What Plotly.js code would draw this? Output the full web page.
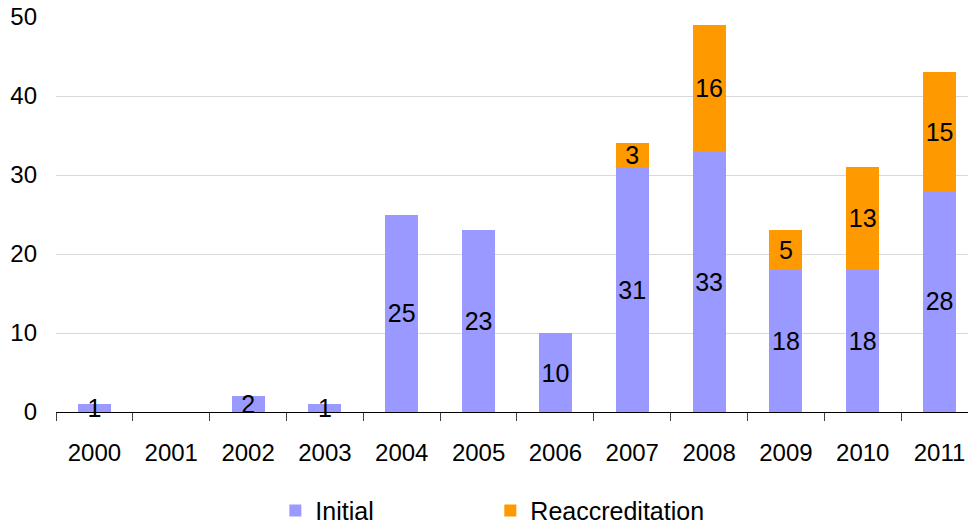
<!DOCTYPE html>
<html><head><meta charset="utf-8">
<script src="https://cdn.plot.ly/plotly-3.0.1.min.js"></script>
<style>html,body{margin:0;padding:0;overflow:hidden;background:#fff}</style>
</head><body><div id="chart" style="width:968px;height:525px"></div>
<script>
const years = ['2000','2001','2002','2003','2004','2005','2006','2007','2008','2009','2010','2011'];
const initial = [1,0,2,1,25,23,10,31,33,18,18,28];
const reaccreditation = [0,0,0,0,0,0,0,3,16,5,13,15];
const seriesNames = ['Initial','Reaccreditation'];
const seriesColors = ['#9999FF','#FF9900'];

const FONT = 'Liberation Sans, Arial, sans-serif';
function lbl(arr){return arr.map(v => v ? String(v) : '');}

const traces = [initial, reaccreditation].map((vals,i)=>({
  type:'bar', x:years, y:vals, name:seriesNames[i],
  marker:{color:seriesColors[i]},
  text:lbl(vals), textposition:'inside', insidetextanchor:'middle', textangle:0,
  constraintext:'none', cliponaxis:false,
  textfont:{family:FONT,size:25,color:'#000'},
  hoverinfo:'x+y+name'
}));

const layout = {
  width:968, height:525,
  margin:{l:56,r:0,t:17,b:113,autoexpand:false},
  barmode:'stack', bargap:0.57,
  paper_bgcolor:'#fff', plot_bgcolor:'#fff',
  font:{family:FONT,size:24,color:'#000'},
  showlegend:true,
  legend:{orientation:'h', x:0.2405, xanchor:'left', y:-0.25, yanchor:'middle',
    font:{family:FONT,size:25,color:'#000'}, entrywidth:170, entrywidthmode:'pixels',
    traceorder:'normal'},
  xaxis:{type:'category', range:[-0.5,11.37], showline:true, linecolor:'#000', linewidth:1,
    ticks:'outside', tickson:'boundaries', ticklen:8, tickcolor:'#404040', automargin:false,
    showgrid:false, ticklabelstandoff:19, tickfont:{family:FONT,size:24,color:'#000'}},
  yaxis:{range:[0,50], dtick:10, showgrid:true, gridcolor:'#d9d9d9', gridwidth:1, automargin:false,
    zeroline:false, showline:false, ticks:'', ticklabelstandoff:18,
    tickfont:{family:FONT,size:24,color:'#000'}}
};
Plotly.newPlot('chart', traces, layout, {displayModeBar:false, staticPlot:true});
</script></body></html>
